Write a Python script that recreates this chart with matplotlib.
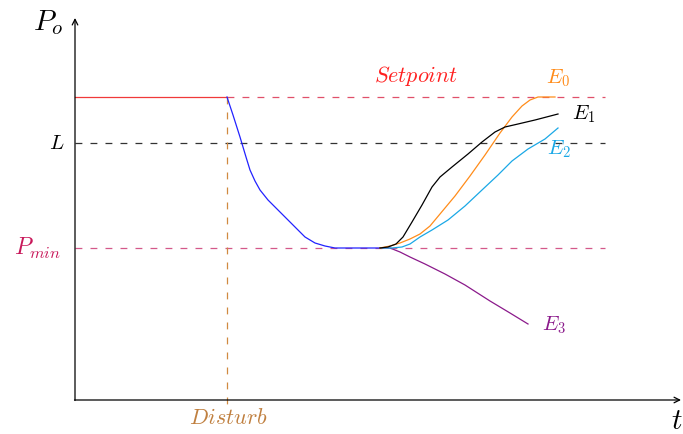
import matplotlib
matplotlib.use("Agg")
import matplotlib.pyplot as plt

plt.rcParams['mathtext.fontset'] = 'cm'

# Pixel-space data (x right, y down)
blue_x = [227, 233, 240, 246, 250, 255, 260, 268, 278, 290, 305, 315, 325, 335, 350, 380]
blue_y = [97, 115, 137, 157, 170, 181, 190, 200, 210, 222, 237, 243, 246, 248, 248, 248]

e0_x = [380, 390, 400, 410, 420, 430, 440, 455, 470, 485, 500, 512, 522, 530, 538, 555]
e0_y = [248, 246, 243, 239, 234, 226, 214, 196, 176, 155, 133, 117, 106, 100, 97, 97]

e1_x = [380, 388, 396, 403, 412, 422, 432, 440, 452, 468, 482, 495, 505, 518, 535, 558]
e1_y = [248, 247, 244, 237, 222, 205, 187, 177, 167, 154, 142, 132, 127, 124, 120, 114]

e2_x = [380, 392, 402, 410, 420, 432, 448, 465, 482, 498, 512, 528, 545, 558]
e2_y = [248, 248, 247, 244, 237, 230, 220, 206, 190, 175, 161, 149, 139, 128]

e3_x = [380, 390, 400, 410, 425, 445, 465, 490, 510, 528]
e3_y = [248, 248, 252, 257, 264, 274, 285, 301, 313, 324]

x0, y_axis_bottom = 75, 400
setpoint_y, L_y, pmin_y = 97, 143, 248
disturb_x = 227
dash_end = 605

fig = plt.figure(figsize=(6.83, 4.34), dpi=100)
ax = fig.add_axes([0, 0, 1, 1])
ax.set_xlim(0, 683)
ax.set_ylim(434, 0)
ax.axis('off')

lw = 0.9
# axes arrows
ax.annotate('', xy=(x0, 18), xytext=(x0, y_axis_bottom + 0.5),
            arrowprops=dict(arrowstyle='->', lw=lw, color='black', shrinkA=0, shrinkB=0))
ax.annotate('', xy=(681, y_axis_bottom), xytext=(x0 - 0.5, y_axis_bottom),
            arrowprops=dict(arrowstyle='->', lw=lw, color='black', shrinkA=0, shrinkB=0))

dash = (0, (5.5, 6.5))
# setpoint
ax.plot([x0, disturb_x], [setpoint_y, setpoint_y], color='#f03a3a', lw=lw)
ax.plot([disturb_x, dash_end], [setpoint_y, setpoint_y], color='#e0506a', lw=lw, linestyle=dash)
# L
ax.plot([x0, dash_end], [L_y, L_y], color='#333333', lw=lw, linestyle=dash)
# Pmin
ax.plot([x0, dash_end], [pmin_y, pmin_y], color='#d4588a', lw=lw, linestyle=dash)
# disturb
ax.plot([disturb_x, disturb_x], [setpoint_y, 406], color='#d08a40', lw=lw, linestyle=dash)

ax.plot(blue_x, blue_y, color='#2222ff', lw=lw)
ax.plot(e3_x, e3_y, color='#8b1a8b', lw=lw)
ax.plot(e2_x, e2_y, color='#1aa8e6', lw=lw)
ax.plot(e0_x, e0_y, color='#ff8c1a', lw=lw)
ax.plot(e1_x, e1_y, color='black', lw=lw)

ax.text(48, 23, r'$P_o$', fontsize=21, ha='center', va='center')
ax.text(677, 421, r'$t$', fontsize=21, ha='center', va='center')
ax.text(57, 143, r'$L$', fontsize=15, ha='center', va='center')
ax.text(37, 248, r'$P_{min}$', fontsize=17, ha='center', va='center', color='#c8185a')
ax.text(228, 418, r'$Disturb$', fontsize=16, ha='center', va='center', color='#c08040')
ax.text(416, 76, r'$Setpoint$', fontsize=16, ha='center', va='center', color='#ff2020')
ax.text(558, 78, r'$E_0$', fontsize=15, ha='center', va='center', color='#ff8c1a')
ax.text(584, 114, r'$E_1$', fontsize=15, ha='center', va='center', color='black')
ax.text(559, 149, r'$E_2$', fontsize=15, ha='center', va='center', color='#1aa8e6')
ax.text(554, 325, r'$E_3$', fontsize=15, ha='center', va='center', color='#8b1a8b')

fig.savefig('out.png', dpi=100)
